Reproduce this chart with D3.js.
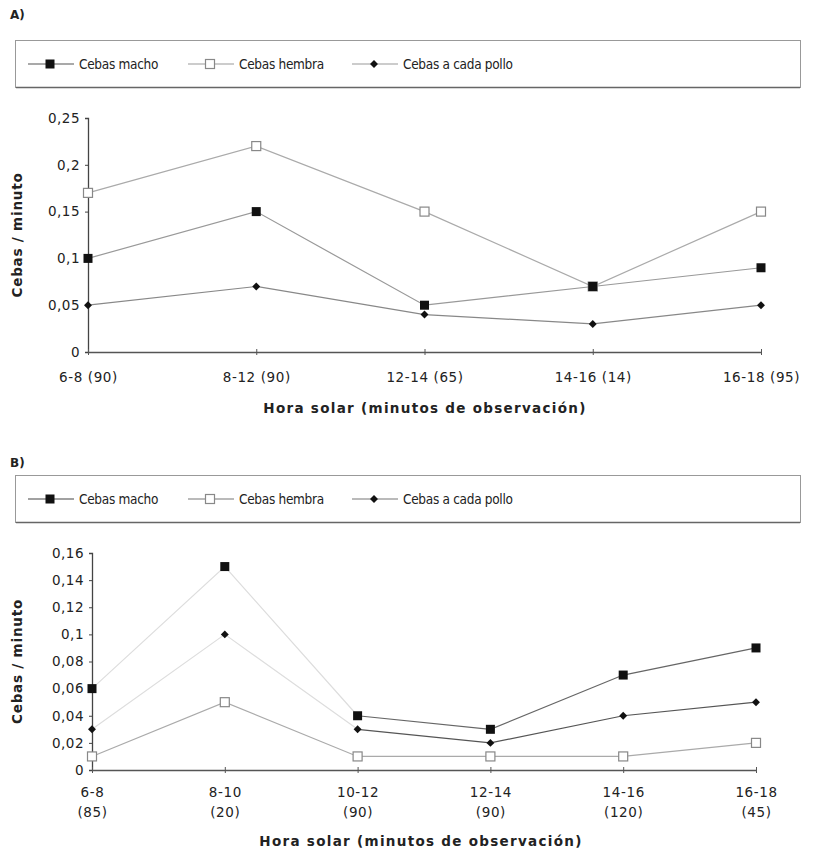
<!DOCTYPE html>
<html>
<head>
<meta charset="utf-8">
<script src="https://cdn.jsdelivr.net/npm/d3@7"></script>
<style>
  body { margin: 0; background: #fff; }
  svg text { font-family: "DejaVu Sans", sans-serif; fill: #222; }
  svg text.legend-label { font-family: "Liberation Sans Narrow", "DejaVu Sans Condensed", sans-serif; }
</style>
</head>
<body>
<svg id="chart" width="814" height="855"></svg>
<script>
// Panel A: hour bands (observation minutes)
const categoriesA = ["6-8 (90)", "8-12 (90)", "12-14 (65)", "14-16 (14)", "16-18 (95)"];
const machoA  = [0.10, 0.15, 0.05, 0.07, 0.09];
const hembraA = [0.17, 0.22, 0.15, 0.07, 0.15];
const polloA  = [0.05, 0.07, 0.04, 0.03, 0.05];
const ticksA = [0, 0.05, 0.1, 0.15, 0.2, 0.25];

// Panel B: hour bands, two-line labels
const categoriesB = [["6-8", "(85)"], ["8-10", "(20)"], ["10-12", "(90)"], ["12-14", "(90)"], ["14-16", "(120)"], ["16-18", "(45)"]];
const machoB  = [0.06, 0.15, 0.04, 0.03, 0.07, 0.09];
const hembraB = [0.01, 0.05, 0.01, 0.01, 0.01, 0.02];
const polloB  = [0.03, 0.10, 0.03, 0.02, 0.04, 0.05];
const ticksB = [0, 0.02, 0.04, 0.06, 0.08, 0.1, 0.12, 0.14, 0.16];

const legendNames = ["Cebas macho", "Cebas hembra", "Cebas a cada pollo"];

const svg = d3.select("#chart");
const fmt = v => String(v).replace(".", ",");

function marker(g, type, x, y) {
  if (type === "macho") {
    g.append("rect").attr("x", x - 4.5).attr("y", y - 4.5).attr("width", 9).attr("height", 9).attr("fill", "#111");
  } else if (type === "hembra") {
    g.append("rect").attr("x", x - 4.5).attr("y", y - 4.5).attr("width", 9).attr("height", 9)
      .attr("fill", "#fff").attr("stroke", "#888").attr("stroke-width", 1.2);
  } else {
    g.append("path").attr("d", d3.symbol(d3.symbolDiamond2, 40)()).attr("transform", `translate(${x},${y})`).attr("fill", "#111");
  }
}

function legend(top, items, lineColors) {
  const g = svg.append("g");
  g.append("rect").attr("x", 15.5).attr("y", top + 0.5).attr("width", 785).attr("height", 47)
    .attr("fill", "#fff").attr("stroke", "#999").attr("stroke-width", 1);
  g.append("line").attr("x1", 16).attr("x2", 800).attr("y1", top + 47.5).attr("y2", top + 47.5)
    .attr("stroke", "#666").attr("stroke-width", 1.5);
  const cy = top + 24;
  items.forEach((it, i) => {
    g.append("line").attr("x1", it.x).attr("x2", it.x + 46).attr("y1", cy).attr("y2", cy)
      .attr("stroke", lineColors[i]).attr("stroke-width", 1.2);
    marker(g, ["macho", "hembra", "pollo"][i], it.x + 22, cy);
    g.append("text").attr("class", "legend-label").attr("x", it.x + 51).attr("y", cy + 5)
      .attr("font-size", 13.5).attr("letter-spacing", -0.3).text(legendNames[i]);
  });
}

function panel(cfg) {
  const g = svg.append("g");
  const x = d3.scalePoint().domain(d3.range(cfg.cats.length)).range([cfg.left, cfg.right]).padding(0);
  const y = d3.scaleLinear().domain([0, cfg.max]).range([cfg.bottom, cfg.top]);

  // y axis
  const ya = g.append("g").attr("transform", `translate(${cfg.left},0)`)
    .call(d3.axisLeft(y).tickValues(cfg.ticks).tickSize(3).tickFormat(fmt));
  ya.select(".domain").attr("stroke", "#444").attr("stroke-width", 1.3);
  ya.selectAll(".tick line").attr("stroke", "#444");
  ya.selectAll(".tick text").attr("font-size", 13.5).attr("x", -8).attr("fill", "#222")
    .style("font-family", "DejaVu Sans").attr("letter-spacing", 0.5);

  // x axis at zero
  const xa = g.append("g").attr("transform", `translate(0,${cfg.bottom})`)
    .call(d3.axisBottom(x).tickSize(3).tickSizeOuter(0).tickFormat(""));
  xa.select(".domain").attr("stroke", "#555").attr("stroke-width", 1.3);
  xa.selectAll(".tick line").attr("stroke", "#555").attr("y1", -3);
  xa.selectAll(".tick").each(function(d) {
    const t = d3.select(this).append("text").attr("text-anchor", "middle").attr("font-size", 13.5)
      .attr("fill", "#222").attr("letter-spacing", 0.6).style("font-family", "DejaVu Sans");
    const lab = cfg.cats[d];
    if (Array.isArray(lab)) {
      lab.forEach((s, k) => t.append("tspan").attr("x", 0).attr("y", cfg.labelDy + k * 20).text(s));
    } else {
      t.attr("y", cfg.labelDy).text(lab);
    }
  });

  // axis titles
  g.append("text").attr("transform", `translate(${cfg.yTitleX},${(cfg.top + cfg.bottom) / 2}) rotate(-90)`)
    .attr("text-anchor", "middle").attr("font-size", 13.5).attr("font-weight", "bold").attr("letter-spacing", 0.8)
    .text("Cebas / minuto");
  g.append("text").attr("x", cfg.xTitleX).attr("y", cfg.xTitleY).attr("text-anchor", "middle")
    .attr("font-size", 13.5).attr("font-weight", "bold").attr("letter-spacing", 1.3)
    .text("Hora solar (minutos de observación)");

  cfg.series.forEach(s => {
    const pts = s.values.map((v, i) => [i, v]);
    const lg = d3.line().x(d => x(d[0])).y(d => y(d[1]));
    if (s.fadeTo) {
      g.append("path").attr("d", lg(pts.slice(0, s.fadeTo + 1))).attr("fill", "none")
        .attr("stroke", "#ddd").attr("stroke-width", 1.2);
      g.append("path").attr("d", lg(pts.slice(s.fadeTo))).attr("fill", "none")
        .attr("stroke", s.color).attr("stroke-width", 1.2);
    } else {
      g.append("path").attr("d", lg(pts)).attr("fill", "none").attr("stroke", s.color).attr("stroke-width", 1.2);
    }
  });
  cfg.series.forEach(s => {
    s.values.forEach((v, i) => marker(g, s.type, x(i), y(v)));
  });
}

// Panel A
svg.append("text").attr("x", 10).attr("y", 19).attr("font-size", 12).attr("font-weight", "bold").text("A)");
legend(40, [{x: 28}, {x: 188}, {x: 352}], ["#555", "#999", "#999"]);
panel({
  cats: categoriesA, max: 0.25, ticks: ticksA,
  left: 88, right: 761, top: 118, bottom: 352,
  labelDy: 30, yTitleX: 22, xTitleX: 425, xTitleY: 413,
  series: [
    {type: "hembra", values: hembraA, color: "#aaa"},
    {type: "macho", values: machoA, color: "#999"},
    {type: "pollo", values: polloA, color: "#888"}
  ]
});

// Panel B
svg.append("text").attr("x", 10).attr("y", 467).attr("font-size", 12).attr("font-weight", "bold").text("B)");
legend(475, [{x: 28}, {x: 188}, {x: 352}], ["#444", "#777", "#777"]);
panel({
  cats: categoriesB, max: 0.16, ticks: ticksB,
  left: 92, right: 756, top: 553, bottom: 770,
  labelDy: 27, yTitleX: 22, xTitleX: 421, xTitleY: 846,
  series: [
    {type: "hembra", values: hembraB, color: "#aaa"},
    {type: "macho", values: machoB, color: "#666", fadeTo: 2},
    {type: "pollo", values: polloB, color: "#555", fadeTo: 2}
  ]
});
</script>
</body>
</html>
